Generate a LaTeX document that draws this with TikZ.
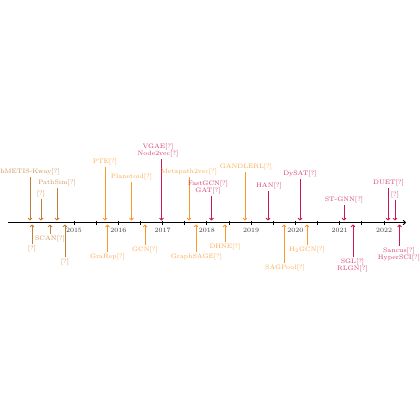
\documentclass[tikz,border=0pt]{standalone}
\usepackage{fontspec}
\usepackage{tikz}
\usetikzlibrary{arrows.meta, positioning}
\definecolor{earlybrown}{RGB}{196, 126, 60}
\definecolor{midorange}{RGB}{250, 152, 40}
\definecolor{latepink}{RGB}{204, 22, 88}
\definecolor{yeargray}{RGB}{60, 60, 60}
\begin{document}
\begin{tikzpicture}[
        x=1cm/30, y=-1cm/30,
        lbl/.style={align=center, inner sep=1.5pt, font=\fontsize{6.1pt}{7.2pt}\selectfont},
        yearlbl/.style={inner sep=1pt, text=yeargray, font=\fontsize{6.2pt}{7pt}\selectfont},
        axisline/.style={-{To[length=3pt, width=5pt]}, line width=0.95pt},
        evarrow/.style={-{To[length=2.5pt, width=4.3pt]}, line width=0.85pt}
      ]
        \useasboundingbox (0,0) rectangle (420,420);
        % time axis
        \coordinate (axstart) at (8,222.5);
        \coordinate (axend) at (406,222.5);
        \draw[axisline] (axstart) -- (axend);
        \foreach \i in {0,...,14}
          \draw[line width=0.8pt] (74+22.143*\i,220.5) -- (74+22.143*\i,224.5);
        \foreach \yr [count=\k from 0] in {2015,...,2022}
          \node[yearlbl] (y\yr) at (74+44.286*\k,230.5) {\yr};
        % methods above the axis: name/label x/arrow x/label y/text/colour
        \foreach \id/\lx/\x/\y/\txt/\col in {
            hmetis/30/30/172/hMETIS-Kway[?]/earlybrown,
            eventa/41/41/194/[?]/earlybrown,
            pathsim/57/57/183/PathSim[?]/earlybrown,
            pte/105/105/162/PTE[?]/midorange,
            planetoid/131.5/131.5/177/Planetoid[?]/midorange,
            vgae/158/161.5/150.5/{VGAE[?]\\Node2vec[?]}/latepink,
            metapath/189/189/172/Metapath2vec[?]/midorange,
            gat/208/211.5/187.5/{FastGCN[?]\\GAT[?]}/latepink,
            gandlerl/246/245/167/GANDLERL[?]/midorange,
            han/269/268/186/HAN[?]/latepink,
            dysat/300/300/174/DySAT[?]/latepink,
            stgnn/344/344/200/ST-GNN[?]/latepink,
            duet/388.5/388/183/DUET[?]/latepink,
            eventb/395/395/195/[?]/latepink} {
          \node[lbl, text=\col!85] (\id) at (\lx,\y) {\txt};
          \coordinate (\id-t) at (\x,220.5);
          \draw[evarrow, color=\col] (\id.south -| \id-t) -- (\id-t);
        }
        % methods below the axis
        \foreach \id/\lx/\x/\y/\txt/\col in {
            eventc/32/32/249/[?]/earlybrown,
            scan/50/50/239/SCAN[?]/earlybrown,
            eventd/65/65/262/[?]/earlybrown,
            grarep/107.5/107.5/257/GraRep[?]/midorange,
            gcn/145/145/250/GCN[?]/midorange,
            graphsage/196.5/196/257/GraphSAGE[?]/midorange,
            dhne/225/225/247/DHNE[?]/midorange,
            sagpool/285/284/268/SAGPool[?]/midorange,
            htwogcn/307/307/250/H$_2$GCN[?]/midorange,
            sgl/352.5/353/265.5/{SGL[?]\\RLGN[?]}/latepink,
            sancus/399/399.5/254.5/{Sancus[?]\\HyperSCI[?]}/latepink} {
          \node[lbl, text=\col!85] (\id) at (\lx,\y) {\txt};
          \coordinate (\id-t) at (\x,224.5);
          \draw[evarrow, color=\col] (\id.north -| \id-t) -- (\id-t);
        }
      \end{tikzpicture}
\end{document}
